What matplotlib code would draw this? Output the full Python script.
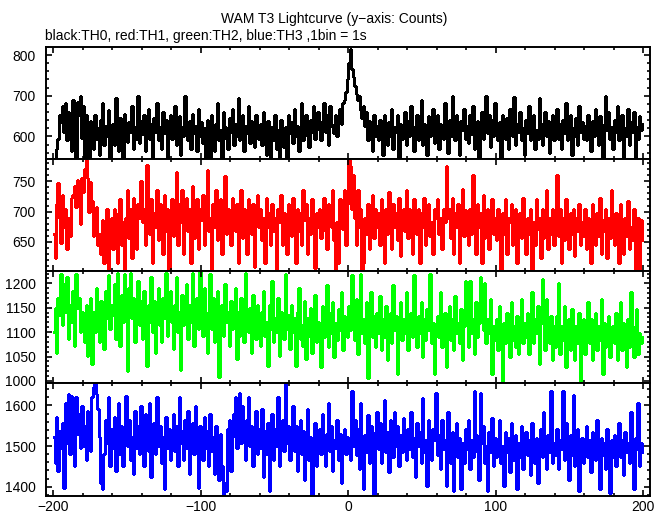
import numpy as np
import matplotlib
matplotlib.use('Agg')
import matplotlib.pyplot as plt
from matplotlib.ticker import MultipleLocator

plt.rcParams['font.family'] = ['Liberation Sans', 'DejaVu Sans']

# 1 s bins from -200 s to +200 s
bin_edges = np.arange(-200, 201, 1)

# TH0 (black)
th0 = [
    533, 520, 570, 593, 652, 635, 675, 611, 683, 590, 660, 637, 563, 690, 623, 540, 685, 652, 700, 595,
    675, 548, 652, 590, 540, 637, 610, 570, 652, 593, 620, 555, 640, 683, 578, 626, 600, 665, 548, 615,
    630, 578, 695, 595, 563, 645, 608, 550, 655, 620, 587, 635, 610, 675, 570, 623, 593, 700, 585, 637,
    605, 652, 565, 615, 668, 593, 630, 548, 645, 610, 683, 590, 623, 570, 660, 608, 640, 533, 620, 652,
    593, 630, 675, 578, 610, 650, 555, 623, 600, 700, 615, 590, 637, 570, 655, 608, 626, 563, 668, 600,
    635, 585, 620, 533, 640, 600, 540, 652, 608, 563, 630, 683, 590, 615, 548, 660, 623, 593, 570, 645,
    610, 668, 578, 630, 600, 695, 590, 620, 652, 563, 626, 608, 675, 585, 637, 600, 575, 652, 615, 593,
    630, 578, 660, 610, 555, 637, 605, 533, 623, 590, 652, 570, 615, 540, 640, 600, 575, 623, 548, 652,
    608, 635, 585, 668, 600, 626, 563, 615, 683, 590, 630, 652, 600, 575, 640, 610, 675, 593, 623, 660,
    615, 590, 637, 683, 610, 652, 578, 675, 630, 623, 608, 652, 600, 637, 668, 630, 683, 690, 710, 740,
    780, 815, 765, 745, 725, 705, 690, 700, 665, 645, 675, 625, 660, 590, 637, 610, 563, 652, 600, 626,
    590, 640, 608, 555, 652, 615, 578, 635, 600, 668, 570, 623, 610, 652, 533, 630, 593, 620, 660, 578,
    637, 600, 675, 610, 563, 626, 652, 590, 615, 690, 578, 630, 608, 555, 650, 600, 623, 668, 585, 615,
    652, 570, 630, 610, 593, 683, 620, 560, 640, 600, 700, 623, 590, 652, 610, 555, 637, 615, 668, 593,
    626, 585, 652, 605, 675, 570, 620, 637, 548, 610, 660, 593, 630, 700, 608, 652, 575, 640, 600, 683,
    615, 590, 635, 533, 652, 610, 593, 645, 570, 668, 623, 600, 697, 578, 630, 610, 660, 590, 620, 555,
    640, 608, 675, 590, 623, 652, 570, 615, 593, 695, 630, 578, 610, 660, 600, 637, 560, 623, 652, 590,
    615, 668, 593, 630, 570, 640, 608, 683, 590, 623, 652, 555, 620, 600, 645, 578, 675, 610, 635, 593,
    626, 590, 652, 610, 563, 637, 600, 668, 620, 580, 650, 608, 533, 630, 700, 615, 660, 593, 623, 570,
    640, 610, 675, 590, 630, 652, 548, 620, 600, 668, 578, 635, 610, 660, 533, 623, 593, 650, 615, 630,
]

# TH1 (red)
th1 = [
    663, 623, 713, 747, 690, 648, 728, 675, 705, 638, 690, 660, 723, 728, 743, 708, 752, 725, 680, 755,
    733, 770, 785, 755, 700, 748, 718, 660, 690, 708, 645, 663, 630, 687, 615, 653, 705, 605, 668, 690,
    638, 705, 663, 615, 698, 720, 645, 683, 603, 690, 735, 657, 705, 623, 723, 675, 638, 713, 690, 750,
    683, 705, 645, 777, 690, 663, 720, 615, 698, 675, 735, 653, 713, 690, 630, 728, 668, 705, 605, 690,
    720, 660, 698, 765, 645, 713, 683, 735, 630, 690, 723, 668, 705, 615, 743, 657, 698, 720, 638, 705,
    687, 728, 645, 705, 768, 668, 690, 605, 713, 675, 735, 653, 702, 720, 630, 683, 758, 663, 705, 690,
    645, 723, 690, 668, 713, 615, 698, 735, 657, 705, 683, 630, 720, 690, 663, 713, 608, 687, 728, 675,
    705, 653, 690, 615, 723, 675, 698, 645, 713, 668, 690, 605, 705, 683, 728, 645, 698, 675, 630, 713,
    690, 660, 723, 683, 615, 705, 668, 698, 645, 735, 687, 713, 630, 690, 663, 720, 683, 607, 698, 675,
    705, 657, 690, 723, 668, 638, 713, 690, 675, 735, 653, 605, 683, 615, 720, 698, 672, 735, 645, 713,
    785, 775, 705, 760, 690, 645, 735, 675, 705, 605, 615, 690, 663, 713, 638, 690, 728, 657, 705, 675,
    698, 645, 720, 683, 615, 705, 663, 732, 690, 638, 713, 675, 698, 653, 723, 627, 690, 705, 668, 735,
    657, 705, 683, 630, 720, 690, 663, 705, 615, 698, 675, 723, 645, 690, 713, 660, 683, 630, 705, 690,
    720, 663, 690, 638, 705, 683, 775, 690, 705, 657, 723, 630, 698, 675, 713, 615, 690, 738, 660, 702,
    683, 645, 705, 663, 760, 690, 630, 713, 675, 698, 615, 728, 657, 690, 705, 638, 683, 720, 663, 690,
    653, 705, 675, 605, 698, 663, 720, 630, 690, 683, 713, 645, 687, 705, 615, 668, 698, 657, 723, 675,
    630, 690, 663, 705, 605, 683, 645, 720, 672, 690, 623, 705, 657, 678, 735, 638, 690, 663, 705, 645,
    683, 760, 660, 705, 615, 690, 653, 720, 675, 638, 698, 663, 705, 627, 690, 668, 713, 645, 683, 660,
    705, 638, 690, 663, 615, 713, 675, 645, 698, 660, 723, 630, 687, 668, 705, 623, 690, 657, 735, 675,
    645, 698, 663, 615, 713, 683, 630, 690, 660, 717, 638, 675, 653, 705, 605, 668, 690, 600, 687, 653,
]

# TH2 (green)
th2 = [
    1100, 1149, 1058, 1170, 1135, 1219, 1114, 1198, 1142, 1213, 1086, 1156, 1121, 1184, 1072, 1220, 1149, 1170, 1100, 1142,
    1114, 1079, 1156, 1051, 1128, 1170, 1035, 1142, 1100, 1191, 1121, 1079, 1163, 1142, 1065, 1184, 1128, 1216, 1107, 1156,
    1135, 1198, 1086, 1222, 1156, 1072, 1177, 1121, 1219, 1142, 1020, 1191, 1222, 1128, 1170, 1079, 1149, 1205, 1114, 1163,
    1086, 1184, 1135, 1030, 1156, 1121, 1212, 1100, 1163, 1058, 1142, 1191, 1114, 1079, 1170, 1128, 1222, 1093, 1149, 1184,
    1121, 1065, 1156, 1212, 1100, 1142, 1023, 1177, 1114, 1135, 1198, 1086, 1156, 1121, 1222, 1072, 1149, 1170, 1107, 1224,
    1156, 1093, 1191, 1128, 1058, 1142, 1219, 1107, 1170, 1079, 1135, 1184, 1009, 1114, 1156, 1093, 1198, 1121, 1142, 1072,
    1163, 1107, 1128, 1191, 1044, 1142, 1093, 1170, 1121, 1079, 1222, 1128, 1100, 1149, 1058, 1177, 1114, 1086, 1156, 1135,
    1072, 1142, 1184, 1093, 1121, 1030, 1156, 1107, 1205, 1079, 1128, 1100, 1170, 1051, 1142, 1114, 1086, 1219, 1107, 1135,
    1065, 1156, 1100, 1128, 1030, 1142, 1191, 1086, 1114, 1072, 1163, 1044, 1128, 1093, 1149, 1058, 1107, 1177, 1079, 1121,
    1112, 1028, 1154, 1091, 1126, 1196, 1070, 1140, 1098, 1161, 1049, 1119, 1084, 1147, 1105, 1182, 1063, 1133, 1112, 1091,
    1154, 1105, 1217, 1126, 1084, 1168, 1056, 1140, 1220, 1098, 1126, 1077, 1161, 1007, 1112, 1182, 1091, 1133, 1070, 1140,
    1098, 1175, 1063, 1126, 1091, 1154, 1042, 1119, 1140, 1077, 1196, 1105, 1133, 1014, 1112, 1161, 1084, 1126, 1098, 1182,
    1063, 1119, 1140, 1091, 1217, 1112, 1070, 1133, 1098, 1161, 1049, 1126, 1084, 1147, 1105, 1220, 1077, 1119, 1014, 1112,
    1133, 1091, 1182, 1070, 1112, 1140, 1028, 1105, 1154, 1084, 1126, 1063, 1175, 1098, 1119, 1077, 1147, 1042, 1112, 1205,
    1140, 1070, 1205, 1098, 1126, 1056, 1161, 1091, 1119, 1212, 1147, 1105, 1200, 1077, 1126, 1098, 1168, 1014, 1112, 1084,
    1126, 1063, 1154, 1091, 1000, 1119, 1077, 1140, 1098, 1049, 1161, 1084, 1112, 1070, 1133, 1056, 1105, 1168, 1077, 1119,
    1091, 1140, 1056, 1112, 1182, 1077, 1126, 1098, 1154, 1035, 1119, 1208, 1140, 1063, 1168, 1098, 1077, 1133, 1042, 1112,
    1070, 1133, 1200, 1056, 1112, 1084, 1154, 1028, 1098, 1126, 1063, 1147, 1091, 1042, 1112, 1077, 1140, 1000, 1098, 1126,
    1056, 1105, 1161, 1077, 1126, 1042, 1098, 1140, 1063, 1112, 1084, 1168, 1014, 1119, 1070, 1098, 1133, 1049, 1091, 1112,
    1077, 1140, 1042, 1098, 1161, 1063, 1119, 1084, 1028, 1126, 1070, 1182, 1091, 1049, 1112, 1147, 1056, 1098, 1077, 1091,
]

# TH3 (blue)
th3 = [
    1522, 1459, 1571, 1438, 1536, 1494, 1557, 1396, 1606, 1508, 1629, 1480, 1622, 1550, 1452, 1620, 1529, 1578, 1494, 1599,
    1501, 1550, 1466, 1585, 1522, 1487, 1620, 1645, 1660, 1629, 1592, 1522, 1410, 1395, 1480, 1564, 1508, 1620, 1452, 1543,
    1494, 1571, 1438, 1529, 1606, 1480, 1550, 1452, 1536, 1622, 1501, 1564, 1466, 1522, 1431, 1585, 1494, 1550, 1480, 1599,
    1515, 1452, 1578, 1536, 1487, 1606, 1424, 1529, 1557, 1480, 1620, 1501, 1550, 1459, 1522, 1395, 1571, 1494, 1543, 1466,
    1529, 1578, 1487, 1550, 1452, 1620, 1508, 1536, 1466, 1564, 1494, 1585, 1431, 1522, 1557, 1480, 1599, 1501, 1396, 1550,
    1508, 1466, 1571, 1494, 1536, 1452, 1578, 1487, 1522, 1431, 1550, 1494, 1417, 1529, 1452, 1380, 1410, 1390, 1543, 1564,
    1438, 1522, 1578, 1620, 1494, 1557, 1630, 1508, 1599, 1536, 1466, 1564, 1620, 1501, 1550, 1452, 1529, 1585, 1480, 1543,
    1494, 1592, 1424, 1536, 1480, 1557, 1390, 1515, 1578, 1466, 1543, 1501, 1620, 1452, 1529, 1564, 1487, 1655, 1508, 1550,
    1466, 1529, 1599, 1487, 1550, 1438, 1515, 1564, 1480, 1536, 1417, 1501, 1592, 1466, 1522, 1380, 1494, 1557, 1452, 1515,
    1543, 1480, 1578, 1501, 1452, 1529, 1606, 1487, 1550, 1438, 1515, 1494, 1564, 1466, 1529, 1410, 1501, 1543, 1480, 1522,
    1514, 1465, 1635, 1500, 1563, 1479, 1542, 1444, 1605, 1507, 1395, 1528, 1486, 1577, 1458, 1549, 1500, 1380, 1535, 1584,
    1493, 1556, 1458, 1521, 1612, 1486, 1535, 1437, 1563, 1507, 1472, 1584, 1500, 1549, 1451, 1528, 1486, 1570, 1514, 1465,
    1542, 1493, 1584, 1472, 1521, 1423, 1556, 1500, 1535, 1458, 1619, 1486, 1514, 1402, 1563, 1500, 1465, 1542, 1514, 1630,
    1479, 1528, 1444, 1563, 1493, 1514, 1402, 1584, 1500, 1458, 1535, 1390, 1486, 1556, 1472, 1521, 1395, 1507, 1458, 1542,
    1493, 1563, 1444, 1514, 1472, 1635, 1528, 1486, 1416, 1630, 1507, 1549, 1458, 1500, 1390, 1535, 1486, 1570, 1451, 1521,
    1472, 1514, 1563, 1458, 1500, 1402, 1535, 1486, 1521, 1437, 1556, 1493, 1465, 1528, 1395, 1507, 1472, 1549, 1444, 1500,
    1535, 1479, 1514, 1430, 1556, 1493, 1458, 1521, 1409, 1500, 1542, 1472, 1584, 1493, 1444, 1528, 1486, 1635, 1458, 1507,
    1479, 1542, 1444, 1514, 1493, 1635, 1465, 1556, 1500, 1416, 1528, 1479, 1626, 1451, 1507, 1542, 1390, 1486, 1521, 1458,
    1500, 1549, 1472, 1514, 1437, 1535, 1486, 1465, 1563, 1500, 1395, 1521, 1479, 1507, 1444, 1542, 1486, 1385, 1514, 1472,
    1528, 1451, 1500, 1556, 1472, 1514, 1430, 1535, 1486, 1507, 1458, 1584, 1479, 1395, 1521, 1493, 1605, 1451, 1507, 1486,
]

series = [th0, th1, th2, th3]
colors = ['black', '#ff0000', '#00ff00', '#0000ff']
ylims = [(545, 821), (602, 787), (995, 1225), (1378, 1654)]
ymajor = [100, 50, 50, 100]
yminor = [20, 10, 10, 20]

fig, axes = plt.subplots(4, 1, sharex=True, figsize=(6.69, 5.15), dpi=100)
fig.subplots_adjust(left=0.0683, right=0.9716, top=0.9097, bottom=0.0375, hspace=0)

for ax, vals, c, yl, mj, mn in zip(axes, series, colors, ylims, ymajor, yminor):
    ax.stairs(vals, bin_edges, baseline=None, color=c, lw=1.0, antialiased=False)
    ax.set_xlim(-205, 204.5)
    ax.set_ylim(*yl)
    ax.yaxis.set_major_locator(MultipleLocator(mj))
    ax.yaxis.set_minor_locator(MultipleLocator(mn))
    ax.xaxis.set_major_locator(MultipleLocator(100))
    ax.xaxis.set_minor_locator(MultipleLocator(20))
    ax.tick_params(which='both', direction='in', top=True, right=True, width=1.2, labelsize=10)
    ax.tick_params(which='major', length=4)
    ax.tick_params(which='minor', length=2.3)
    ax.tick_params(axis='y', pad=7)
    ax.tick_params(axis='x', pad=3)
    for s in ax.spines.values():
        s.set_linewidth(1.4)

fig.text(0.5, 0.963, 'WAM T3 Lightcurve (y\u2212axis: Counts)', ha='center', va='center', fontsize=10)
fig.text(0.067, 0.931, 'black:TH0, red:TH1, green:TH2, blue:TH3 ,1bin = 1s', ha='left', va='center', fontsize=10)

plt.savefig('out.png', dpi=100)
